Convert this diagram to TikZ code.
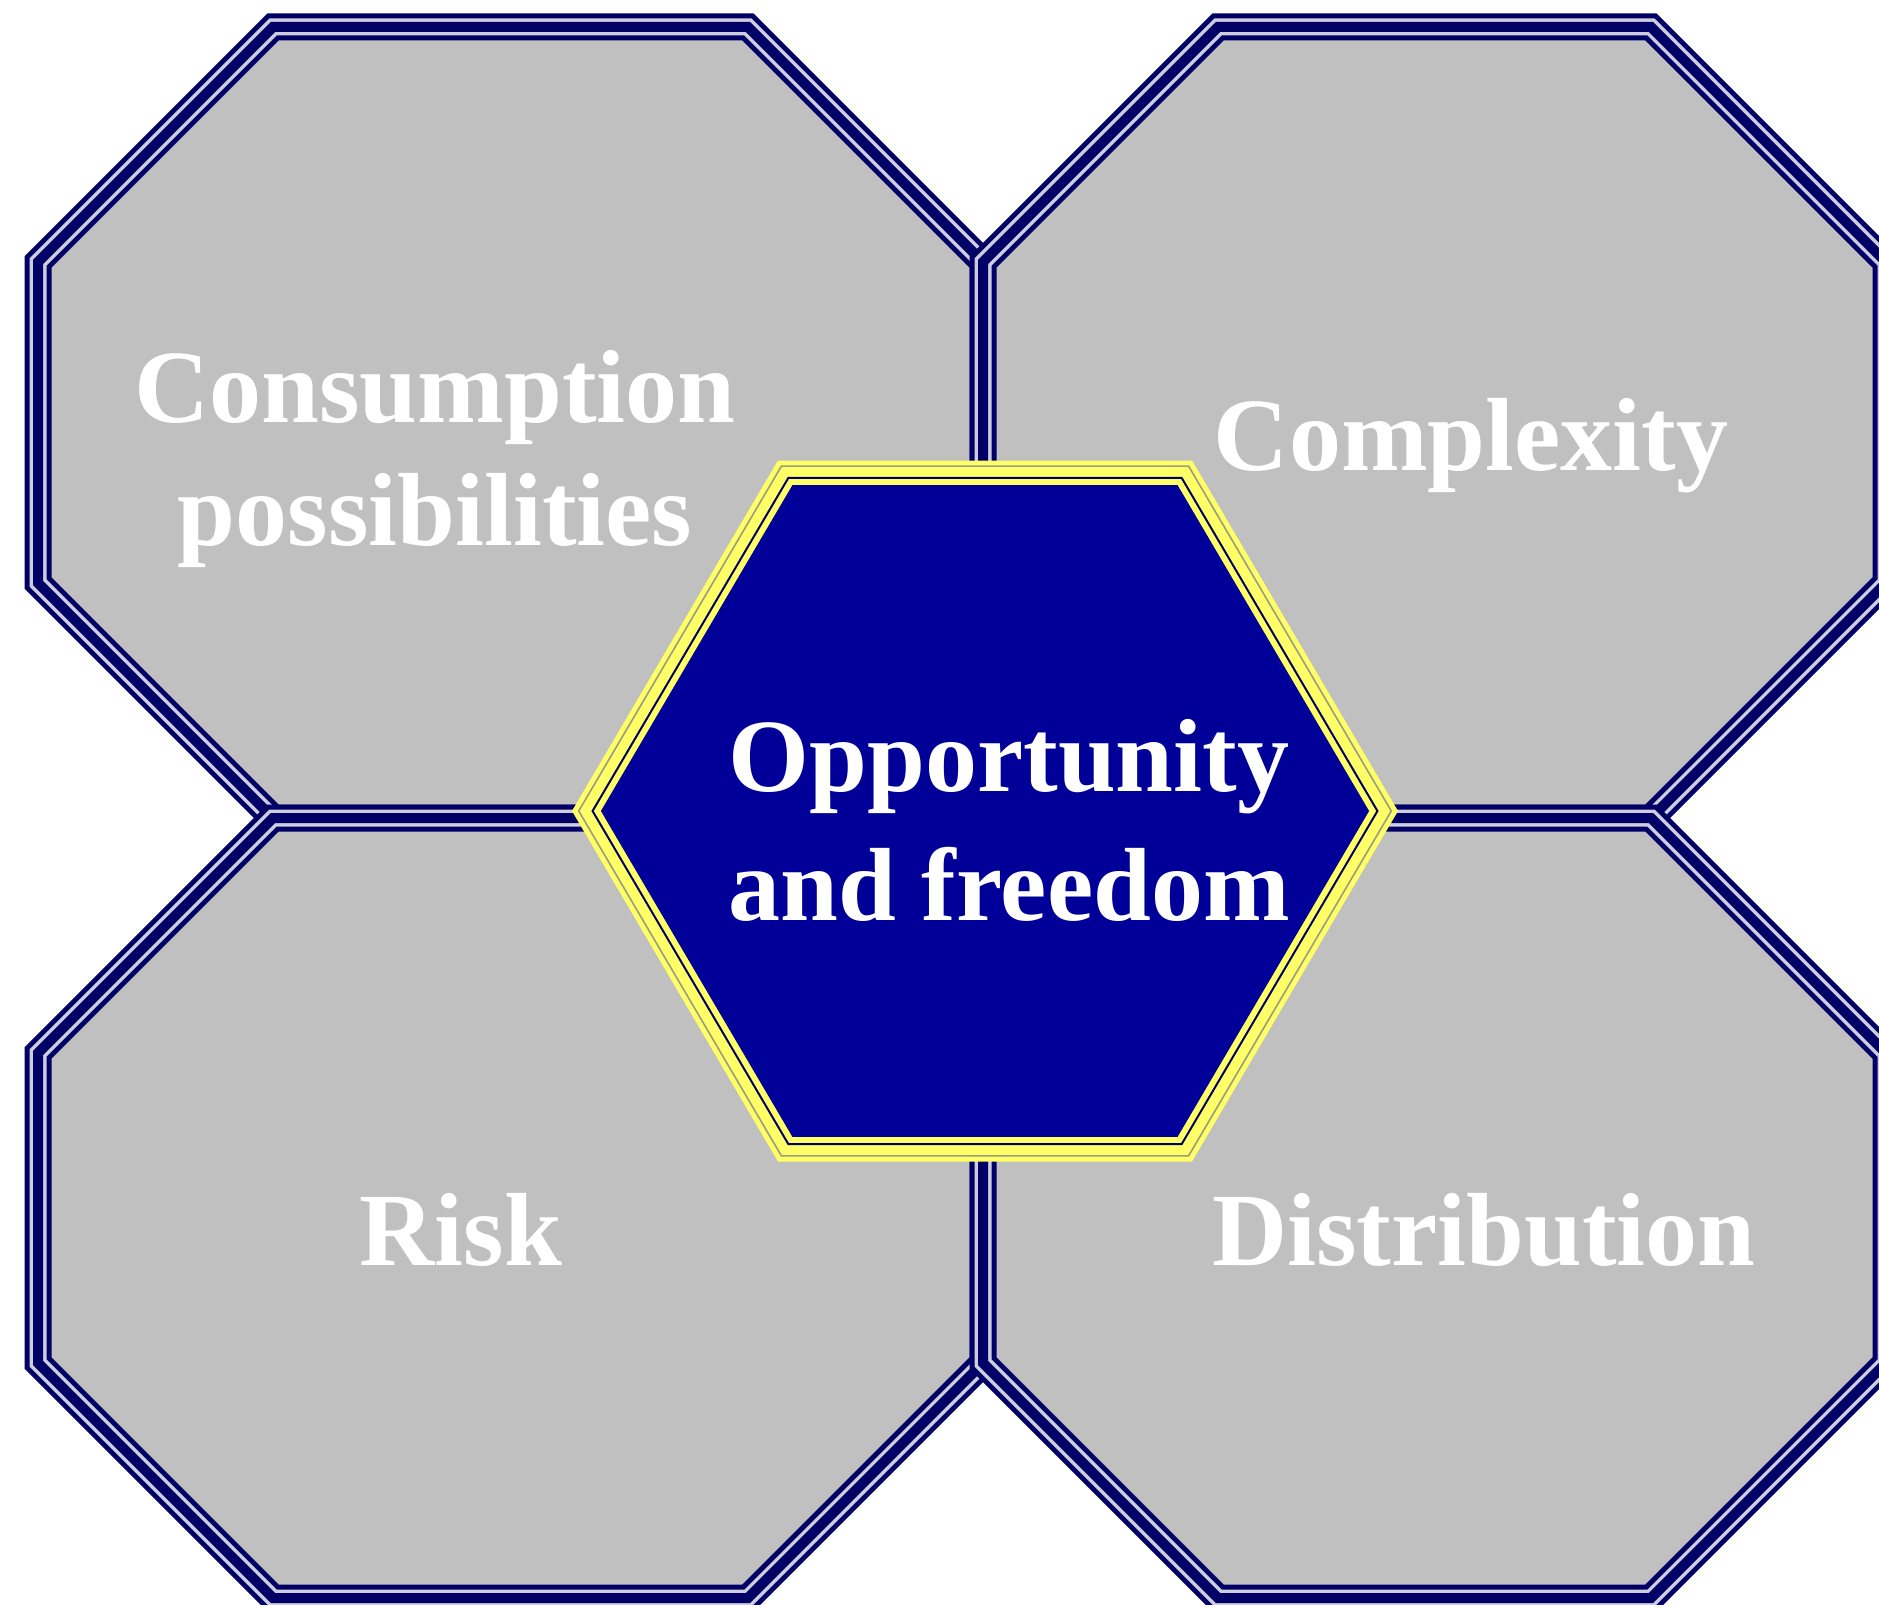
\documentclass[tikz,border=0pt]{standalone}
\usepackage{fontspec}
\setmainfont{Liberation Serif}
\usepackage{xcolor}
\usepackage{tikz}
\definecolor{navy}{HTML}{000066}
\definecolor{royal}{HTML}{000099}
\definecolor{silver}{HTML}{C0C0C0}
\definecolor{seam}{HTML}{CDCDDD}
\definecolor{lemon}{HTML}{FFFF66}
\definecolor{haze}{HTML}{9C9C84}
% octagon: left, top, right, bottom, corner cut
\newcommand{\octagon}[5]{
  \fill[silver] (#1+#5,#2) -- (#3-#5,#2) -- (#3,#2+#5) -- (#3,#4-#5) -- (#3-#5,#4) -- (#1+#5,#4) -- (#1,#4-#5) -- (#1,#2+#5) -- cycle;
  \foreach \w/\c in {27/navy,17/seam,10/navy}
    \draw[\c,line width=\w pt] (#1+#5,#2) -- (#3-#5,#2) -- (#3,#2+#5) -- (#3,#4-#5) -- (#3-#5,#4) -- (#1+#5,#4) -- (#1,#4-#5) -- (#1,#2+#5) -- cycle;
}

\begin{document}
\begin{tikzpicture}[x=1pt,y=-1pt,
  octtext/.style={text=white,inner sep=0pt,align=center,
    font=\fontsize{104}{123}\selectfont\bfseries},
  hextext/.style={octtext,font=\fontsize{104}{129}\selectfont\bfseries}]
  \useasboundingbox (0,0) rectangle (1879,1605);
  \clip (0,0) rectangle (1879,1605);

  \octagon{38}{27}{983}{818}{235}
  \octagon{983}{27}{1886}{818}{235}
  \octagon{38}{818}{983}{1598}{235}
  \octagon{983}{818}{1886}{1598}{235}

  \begin{scope}[shift={(985,811)}]
    \foreach \s/\c in {1/lemon,0.986/haze,0.981/lemon,0.953/navy,0.947/lemon,0.930/royal}
      \fill[\c,scale=\s] (-413,0) -- (-207,-350.5) -- (207,-350.5) -- (413,0) -- (207,350.5) -- (-207,350.5) -- cycle;
  \end{scope}

  \node[octtext,anchor=base] (consumption) at (435,545) {Consumption\\possibilities};
  \node[octtext,anchor=base] (complexity) at (1471,470) {Complexity};
  \node[octtext,anchor=base] (risk) at (461,1265) {Risk};
  \node[octtext,anchor=base] (distribution) at (1484,1265) {Distribution};
  \node[hextext,anchor=base] (opportunity) at (1009,920) {Opportunity\\and freedom};
\end{tikzpicture}
\end{document}
